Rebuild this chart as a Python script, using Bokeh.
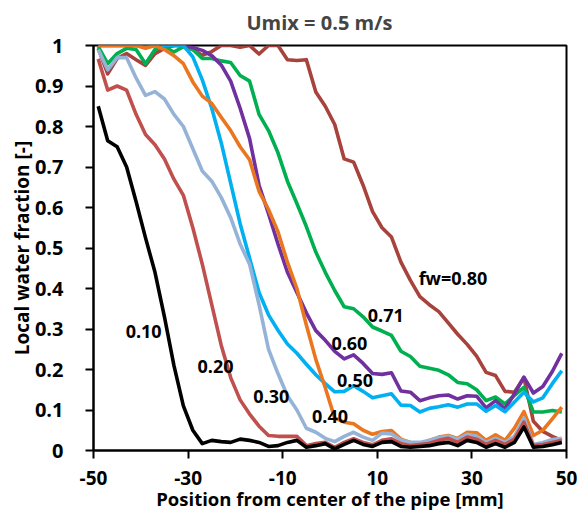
from bokeh.plotting import figure
from bokeh.models import FixedTicker, Range1d, Label
from bokeh.embed import file_html
from bokeh.resources import INLINE

# Position from center of the pipe [mm]
x_mm = [-49, -47, -45, -43, -41, -39, -37, -35, -33, -31,
        -29, -27, -25, -23, -21, -19, -17, -15, -13, -11,
        -9, -7, -5, -3, -1, 1, 3, 5, 7, 9,
        11, 13, 15, 17, 19, 21, 23, 25, 27, 29,
        31, 33, 35, 37, 39, 41, 43, 45, 47, 49]

fw_010 = [0.85, 0.765, 0.75, 0.70, 0.615, 0.525, 0.44, 0.33, 0.21, 0.11,
          0.05, 0.017, 0.025, 0.022, 0.02, 0.028, 0.025, 0.02, 0.01, 0.012,
          0.02, 0.025, 0.008, 0.012, 0.017, 0.004, 0.015, 0.025, 0.015, 0.01,
          0.02, 0.022, 0.01, 0.008, 0.01, 0.012, 0.017, 0.02, 0.012, 0.025,
          0.02, 0.008, 0.017, 0.008, 0.02, 0.058, 0.008, 0.01, 0.014, 0.02]

fw_020 = [0.967, 0.89, 0.90, 0.89, 0.83, 0.78, 0.755, 0.72, 0.67, 0.63,
          0.55, 0.46, 0.36, 0.26, 0.18, 0.125, 0.09, 0.06, 0.037, 0.035,
          0.035, 0.035, 0.012, 0.017, 0.02, 0.008, 0.02, 0.029, 0.02, 0.014,
          0.025, 0.029, 0.017, 0.012, 0.015, 0.018, 0.025, 0.03, 0.02, 0.033,
          0.028, 0.015, 0.025, 0.015, 0.028, 0.07, 0.012, 0.015, 0.02, 0.025]

fw_030 = [0.99, 0.94, 0.97, 0.97, 0.92, 0.877, 0.886, 0.868, 0.83, 0.80,
          0.745, 0.69, 0.665, 0.625, 0.575, 0.51, 0.46, 0.36, 0.25, 0.19,
          0.135, 0.10, 0.055, 0.045, 0.03, 0.022, 0.035, 0.045, 0.033, 0.025,
          0.043, 0.041, 0.026, 0.02, 0.02, 0.025, 0.032, 0.035, 0.028, 0.04,
          0.035, 0.02, 0.03, 0.02, 0.035, 0.08, 0.015, 0.02, 0.027, 0.03]

fw_040 = [1.0, 1.0, 1.0, 1.0, 1.0, 0.993, 1.0, 0.99, 0.975, 0.955,
          0.91, 0.875, 0.857, 0.823, 0.79, 0.75, 0.718, 0.64, 0.595, 0.54,
          0.465, 0.40, 0.31, 0.225, 0.155, 0.08, 0.07, 0.066, 0.05, 0.04,
          0.047, 0.049, 0.028, 0.02, 0.013, 0.025, 0.033, 0.037, 0.03, 0.045,
          0.044, 0.025, 0.039, 0.025, 0.055, 0.096, 0.037, 0.05, 0.078, 0.107]

fw_050 = [1.0, 1.0, 1.0, 1.0, 1.0, 1.0, 1.0, 1.0, 1.0, 1.0,
          0.972, 0.915, 0.845, 0.76, 0.66, 0.56, 0.475, 0.39, 0.335, 0.297,
          0.263, 0.24, 0.213, 0.187, 0.165, 0.145, 0.146, 0.16, 0.146, 0.13,
          0.135, 0.14, 0.112, 0.111, 0.095, 0.104, 0.108, 0.113, 0.107, 0.115,
          0.115, 0.097, 0.111, 0.096, 0.12, 0.144, 0.12, 0.13, 0.165, 0.197]

fw_060 = [1.0, 1.0, 1.0, 1.0, 1.0, 1.0, 1.0, 1.0, 1.0, 1.0,
          0.995, 0.988, 0.975, 0.952, 0.912, 0.845, 0.77, 0.655, 0.585, 0.51,
          0.44, 0.39, 0.34, 0.296, 0.272, 0.245, 0.226, 0.236, 0.215, 0.19,
          0.188, 0.192, 0.147, 0.144, 0.123, 0.13, 0.135, 0.137, 0.127, 0.135,
          0.134, 0.105, 0.123, 0.103, 0.14, 0.181, 0.142, 0.158, 0.195, 0.24]

fw_071 = [0.997, 0.955, 0.98, 0.993, 0.99, 0.955, 0.99, 0.997, 0.984, 0.997,
          0.99, 0.968, 0.968, 0.962, 0.958, 0.926, 0.912, 0.83, 0.79, 0.735,
          0.665, 0.61, 0.553, 0.49, 0.44, 0.395, 0.355, 0.35, 0.33, 0.305,
          0.295, 0.284, 0.245, 0.232, 0.208, 0.203, 0.198, 0.187, 0.168, 0.165,
          0.15, 0.123, 0.132, 0.115, 0.136, 0.156, 0.095, 0.095, 0.099, 0.095]

fw_080 = [0.993, 0.93, 0.968, 0.98, 0.965, 0.951, 0.98, 0.993, 1.0, 1.0,
          0.99, 0.976, 0.985, 1.0, 1.0, 0.996, 1.0, 0.979, 1.0, 1.0,
          0.965, 0.963, 0.965, 0.885, 0.85, 0.805, 0.72, 0.712, 0.655, 0.59,
          0.55, 0.527, 0.465, 0.42, 0.38, 0.36, 0.343, 0.315, 0.287, 0.262,
          0.233, 0.193, 0.185, 0.146, 0.144, 0.18, 0.072, 0.047, 0.035, 0.025]

series_labels = ["0.10", "0.20", "0.30", "0.40", "0.50", "0.60", "0.71", "fw=0.80"]
series_values = [fw_010, fw_020, fw_030, fw_040, fw_050, fw_060, fw_071, fw_080]
series_colors = ["#000000", "#C0504D", "#95B3D7", "#EA7720", "#00B0F0", "#7030A0", "#00B050", "#A8423C"]
# label anchor positions (data units)
label_x = [-39.4, -24.2, -12.4, 0.0, 5.3, 4.1, 11.8, 26.0]
label_y = [0.294, 0.208, 0.133, 0.084, 0.172, 0.264, 0.333, 0.426]

x_ticks = [-50, -30, -10, 10, 30, 50]
y_ticks = [0, 0.1, 0.2, 0.3, 0.4, 0.5, 0.6, 0.7, 0.8, 0.9, 1]

FONT = "Open Sans"

p = figure(width=587, height=517, output_backend="svg", toolbar_location=None,
           x_range=Range1d(-50, 50), y_range=Range1d(0, 1),
           min_border_left=93, min_border_right=21, min_border_top=45, min_border_bottom=67,
           title="Umix = 0.5 m/s")

p.title.align = "left"
p.title.vertical_align = "top"
p.title.text_font = FONT
p.title.text_font_style = "bold"
p.title.text_font_size = "20px"
p.title.offset = 153
p.title.standoff = 15

p.xgrid.visible = False
p.ygrid.visible = False
p.outline_line_color = "black"
p.outline_line_width = 2
p.background_fill_color = "white"
p.border_fill_color = "white"

for ax in (p.xaxis[0], p.yaxis[0]):
    ax.axis_line_color = "black"
    ax.axis_line_width = 2
    ax.major_tick_line_color = "black"
    ax.major_tick_line_width = 2
    ax.major_tick_out = 8
    ax.major_tick_in = 0
    ax.minor_tick_line_color = None
    ax.major_label_text_font = FONT
    ax.major_label_text_font_style = "bold"
    ax.major_label_text_color = "black"
    ax.axis_label_text_font = FONT
    ax.axis_label_text_font_style = "bold"
    ax.axis_label_text_color = "black"

p.xaxis.major_label_text_font_size = "19px"
p.yaxis.major_label_text_font_size = "20px"
p.xaxis.axis_label_text_font_size = "18.5px"
p.yaxis.axis_label_text_font_size = "19px"

p.xaxis.ticker = FixedTicker(ticks=x_ticks)
p.xaxis.major_label_overrides = {t: str(t) for t in x_ticks}
p.yaxis.ticker = FixedTicker(ticks=y_ticks)
p.yaxis.major_label_overrides = {0: "0", 1: "1"}
p.xaxis.axis_label = "Position from center of the pipe [mm]"
p.yaxis.axis_label = "Local water fraction [-]"
p.xaxis.major_label_standoff = 12
p.yaxis.major_label_standoff = 22
p.xaxis.axis_label_standoff = -2
p.yaxis.axis_label_standoff = -3

# draw in reverse order so that 0.10 ends on top
for vals, col in reversed(list(zip(series_values, series_colors))):
    p.line(x_mm, vals, line_color=col, line_width=3.6, line_join="round")

for txt, lx, ly in zip(series_labels, label_x, label_y):
    p.add_layout(Label(x=lx, y=ly, text=txt, text_align="center", text_baseline="middle",
                       text_font=FONT, text_font_style="bold", text_font_size="18px",
                       text_color="black"))

open("out.html", "w").write(file_html(p, INLINE))
